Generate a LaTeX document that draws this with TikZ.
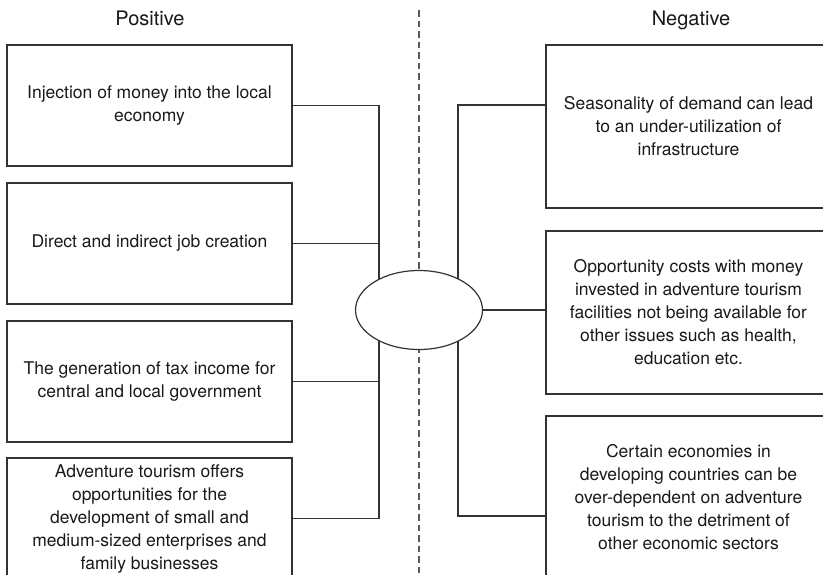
\documentclass[tikz,border=0pt]{standalone}
\usepackage{fontspec}
\setmainfont{TeX Gyre Heros}
\usetikzlibrary{shapes.geometric,calc}
\begin{document}
\begin{tikzpicture}[x=1pt,y=-1pt,
  ln/.style={draw=black!80, line width=1.2pt},
  lbox/.style={ln, rectangle, minimum width=285pt, minimum height=121pt, inner sep=0pt, outer sep=0pt, align=center, font=\fontsize{17.5}{23}\selectfont, text=black!90},
  rbox/.style={lbox, minimum height=163pt},
  title/.style={font=\fontsize{20}{23}\selectfont, text=black!90},
  hub/.style={ln, ellipse, fill=white, minimum width=127pt, minimum height=79pt, inner sep=0pt, outer sep=0pt},
  divider/.style={draw=black!65, line width=1.4pt, dash pattern=on 6.7pt off 3.8pt}]
\useasboundingbox (0,0) rectangle (823,574);
\fill[white] (0,0) rectangle (823,574);
\clip (0,0) rectangle (823,574);

% titles
\node[title, anchor=base] (tp) at (150,25) {Positive};
\node[title, anchor=base] (tn) at (691,25) {Negative};

% divider
\coordinate (dtop) at (419,10);
\coordinate (dbot) at (419,580);
\draw[divider] (dtop) -- (dbot);

% left boxes
\node[lbox] (l1) at (149.5,105.5) {Injection of money into the local\\economy};
\node[lbox] (l2) at (149.5,243.5) {Direct and indirect job creation};
\node[lbox] (l3) at (149.5,381.5) {The generation of tax income for\\central and local government};
\node[lbox] (l4) at (149.5,518.5) {Adventure tourism offers\\opportunities for the\\development of small and\\medium-sized enterprises and\\family businesses};

% right boxes
\node[rbox] (r1) at (688.5,126.5) {Seasonality of demand can lead\\to an under-utilization of\\infrastructure};
\node[rbox] (r2) at (688.5,312.5) {Opportunity costs with money\\invested in adventure tourism\\facilities not being available for\\other issues such as health,\\education etc.};
\node[rbox] (r3) at (688.5,497.5) {Certain economies in\\developing countries can be\\over-dependent on adventure\\tourism to the detriment of\\other economic sectors};

% buses
\coordinate (lb) at (379,0);
\coordinate (rb) at (458,0);
\coordinate (r1c) at ([yshift=21.5pt]r1.west);
\coordinate (r3c) at ([yshift=-18.5pt]r3.west);

\draw[ln] (l1.east) -- (l1.east -| lb) -- (l4.east -| lb) -- (l4.east);
\draw[ln] (l2.east) -- (l2.east -| lb);
\draw[ln] (l3.east) -- (l3.east -| lb);
\draw[ln] (r1c) -- (r1c -| rb) -- (r3c -| rb) -- (r3c);

% hub
\node[hub] (hub) at (419,310) {};
\draw[ln] (hub.east) -- (hub.east -| r2.west);
\end{tikzpicture}
\end{document}
